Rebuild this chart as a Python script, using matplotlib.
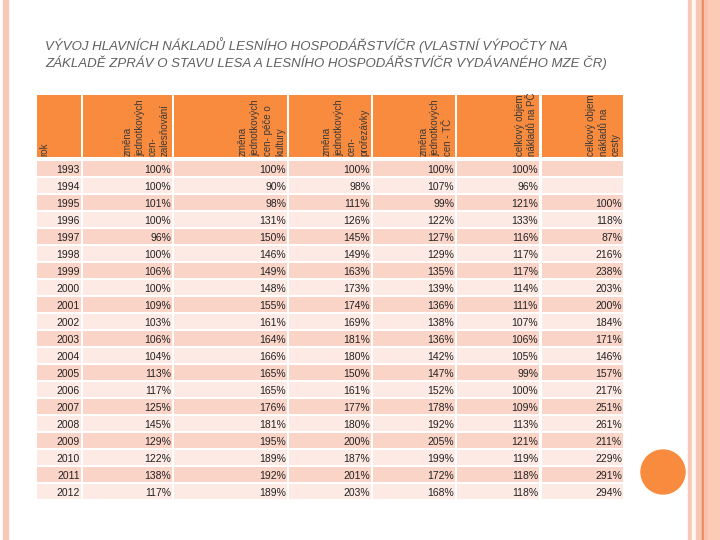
import matplotlib
matplotlib.use('Agg')
import matplotlib.pyplot as plt
from matplotlib.patches import Rectangle, Circle

years = [1993, 1994, 1995, 1996, 1997, 1998, 1999, 2000, 2001, 2002,
         2003, 2004, 2005, 2006, 2007, 2008, 2009, 2010, 2011, 2012]
zalesnovani = [100, 100, 101, 100, 96, 100, 106, 100, 109, 103,
               106, 104, 113, 117, 125, 145, 129, 122, 138, 117]
pece_kultury = [100, 90, 98, 131, 150, 146, 149, 148, 155, 161,
                164, 166, 165, 165, 176, 181, 195, 189, 192, 189]
prorezavky = [100, 98, 111, 126, 145, 149, 163, 173, 174, 169,
              181, 180, 150, 161, 177, 180, 200, 187, 201, 203]
tezba = [100, 107, 99, 122, 127, 129, 135, 139, 136, 138,
         136, 142, 147, 152, 178, 192, 205, 199, 172, 168]
naklady_pc = [100, 96, 121, 133, 116, 117, 117, 114, 111, 107,
              106, 105, 99, 100, 109, 113, 121, 119, 118, 118]
naklady_cesty = [None, None, 100, 118, 87, 216, 238, 203, 200, 184,
                 171, 146, 157, 217, 251, 261, 211, 229, 291, 294]

headers = ["rok",
           "změna\njednotkových\ncen-\nzalesňování",
           "změna\njednotkových\ncen- péče o\nkultury",
           "změna\njednotkových\ncen-\nprořezávky",
           "změna\njednotkových\ncen - TČ",
           "celkový objem\nnákladů na PČ",
           "celkový objem\nnákladů na\ncesty"]
title_lines = ["VÝVOJ HLAVNÍCH NÁKLADŮ LESNÍHO HOSPODÁŘSTVÍČR (VLASTNÍ VÝPOČTY NA",
               "ZÁKLADĚ ZPRÁV O STAVU LESA A LESNÍHO HOSPODÁŘSTVÍČR VYDÁVANÉHO MZE ČR)"]

columns = [zalesnovani, pece_kultury, prorezavky, tezba, naklady_pc, naklady_cesty]

# layout in pixels
col_left = [37, 83, 174, 289, 373, 457, 542]
col_right = [81, 172, 287, 371, 455, 539, 623]
head_top, head_bot = 95, 157
row_top0, row_pitch, row_h = 161, 17, 15

orange = '#F98B3E'
band_dark = '#FBD4C8'
band_light = '#FDEAE4'
font = 'Liberation Sans'

fig = plt.figure(figsize=(7.2, 5.4), dpi=100)
ax = fig.add_axes([0, 0, 1, 1])
ax.set_xlim(0, 720)
ax.set_ylim(540, 0)
ax.axis('off')

# slide borders
ax.add_patch(Rectangle((3, 0), 5, 540, color='#F8C8B6'))
ax.add_patch(Rectangle((688, 0), 4, 540, color='#F8C8B6'))
ax.add_patch(Rectangle((692, 0), 4, 540, color='#FFF8F2'))
ax.add_patch(Rectangle((696, 0), 6, 540, color='#F9C6B3'))
ax.add_patch(Rectangle((702, 0), 1.5, 540, color='#E8895A'))
ax.add_patch(Rectangle((703.5, 0), 4.5, 540, color='#F8C2AD'))
ax.add_patch(Rectangle((708, 0), 12, 540, color='#FDCAB6'))

ax.add_patch(Circle((663, 472), 22, color=orange))

for k, line in enumerate(title_lines):
    ax.text(45, 45 + k * 18, line, fontsize=9.5, family=font, style='italic',
            color='#606060', va='center', ha='left')

# header
for i, h in enumerate(headers):
    ax.add_patch(Rectangle((col_left[i], head_top), col_right[i] - col_left[i],
                           head_bot - head_top, color=orange, lw=0))
    x = col_left[i] + 2 if i == 0 else col_right[i] - 2
    ax.text(x, head_bot - 1, h, rotation=90, fontsize=7, family=font,
            color='#3A3A3A', ha='left' if i == 0 else 'right', va='bottom',
            multialignment='left', linespacing=1.3)

# body rows
for r, yr in enumerate(years):
    top = row_top0 + r * row_pitch
    fc = band_dark if r % 2 == 0 else band_light
    for i in range(7):
        ax.add_patch(Rectangle((col_left[i], top), col_right[i] - col_left[i],
                               row_h, color=fc, lw=0))
    ax.text(col_right[0] - 1, top + 12, str(yr), fontsize=7.5, family=font,
            color='#222222', ha='right', va='baseline')
    for i, col in enumerate(columns):
        v = col[r]
        if v is None:
            continue
        ax.text(col_right[i + 1] - 1, top + 12, f"{v}%", fontsize=7.5, family=font,
                color='#222222', ha='right', va='baseline')

fig.savefig('out.png', dpi=100)
